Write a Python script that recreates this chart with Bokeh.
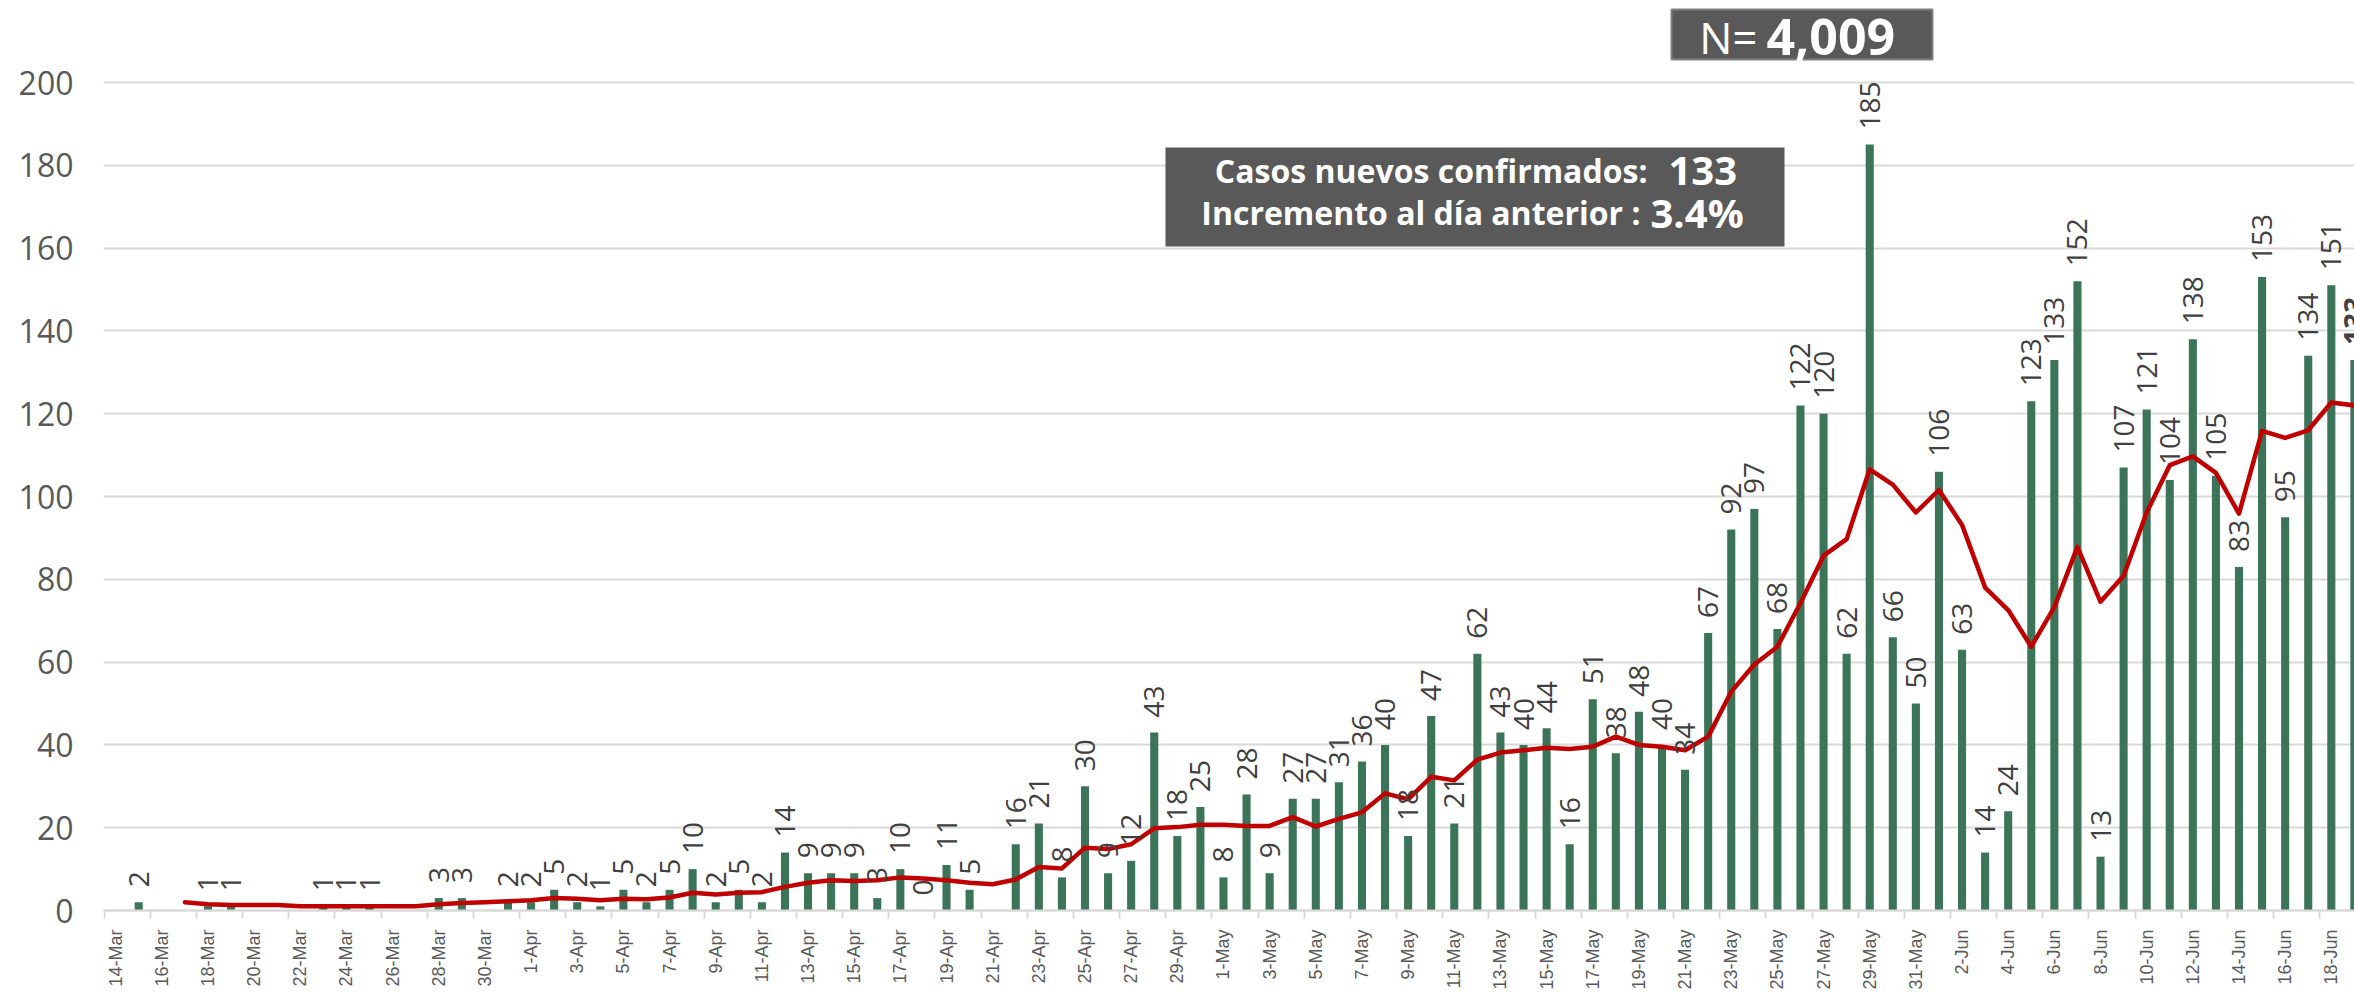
from bokeh.plotting import figure
from bokeh.models import ColumnDataSource, Range1d, LinearAxis, FixedTicker
from bokeh.core.properties import value
from bokeh.embed import file_html
from bokeh.resources import INLINE
from math import pi

# ---------------- data ----------------
dates = [
    "14-Mar", "15-Mar", "16-Mar", "17-Mar", "18-Mar", "19-Mar", "20-Mar", "21-Mar", "22-Mar",
    "23-Mar", "24-Mar", "25-Mar", "26-Mar", "27-Mar", "28-Mar", "29-Mar", "30-Mar", "31-Mar",
    "1-Apr", "2-Apr", "3-Apr", "4-Apr", "5-Apr", "6-Apr", "7-Apr", "8-Apr", "9-Apr", "10-Apr",
    "11-Apr", "12-Apr", "13-Apr", "14-Apr", "15-Apr", "16-Apr", "17-Apr", "18-Apr", "19-Apr",
    "20-Apr", "21-Apr", "22-Apr", "23-Apr", "24-Apr", "25-Apr", "26-Apr", "27-Apr", "28-Apr",
    "29-Apr", "30-Apr",
    "1-May", "2-May", "3-May", "4-May", "5-May", "6-May", "7-May", "8-May", "9-May", "10-May",
    "11-May", "12-May", "13-May", "14-May", "15-May", "16-May", "17-May", "18-May", "19-May",
    "20-May", "21-May", "22-May", "23-May", "24-May", "25-May", "26-May", "27-May", "28-May",
    "29-May", "30-May", "31-May",
    "1-Jun", "2-Jun", "3-Jun", "4-Jun", "5-Jun", "6-Jun", "7-Jun", "8-Jun", "9-Jun", "10-Jun",
    "11-Jun", "12-Jun", "13-Jun", "14-Jun", "15-Jun", "16-Jun", "17-Jun", "18-Jun", "19-Jun",
]

cases = [
    None, 2, None, None, 1, 1, None, None, None,
    1, 1, 1, None, None, 3, 3, None, 2,
    2, 5, 2, 1, 5, 2, 5, 10, 2, 5,
    2, 14, 9, 9, 9, 3, 10, 0, 11,
    5, None, 16, 21, 8, 30, 9, 12, 43,
    18, 25,
    8, 28, 9, 27, 27, 31, 36, 40, 18, 47,
    21, 62, 43, 40, 44, 16, 51, 38, 48,
    40, 34, 67, 92, 97, 68, 122, 120, 62,
    185, 66, 50,
    106, 63, 14, 24, 123, 133, 152, 13, 107, 121,
    104, 138, 105, 83, 153, 95, 134, 151, 133,
]

# red trend line (7-day moving average as drawn in the reference)
trend = [
    None, None, None, 2.0, 1.5, 1.33, 1.33, 1.33, 1.0,
    1.0, 1.0, 1.0, 1.0, 1.0, 1.5, 1.8, 2.0, 2.25,
    2.5, 3.0, 2.83, 2.5, 2.83, 2.71, 3.14, 4.29, 3.86, 4.29,
    4.43, 5.71, 6.71, 7.29, 7.14, 7.29, 8.0, 7.71, 7.29,
    6.71, 6.33, 7.5, 10.5, 10.17, 15.17, 14.83, 16.0, 19.86,
    20.14, 20.71,
    20.71, 20.43, 20.43, 22.57, 20.29, 22.14, 23.71, 28.29, 26.86, 32.29,
    31.43, 36.43, 38.14, 38.71, 39.29, 39.0, 39.57, 42.0, 40.0,
    39.57, 38.71, 42.0, 52.86, 59.43, 63.71, 74.29, 85.71, 89.71,
    106.57, 102.86, 96.14,
    101.57, 93.14, 78.0, 72.57, 63.71, 73.29, 87.86, 74.57, 80.86, 96.14,
    107.57, 109.71, 105.71, 95.86, 115.86, 114.14, 116.0, 122.71, 122.0,
]

y_ticks = [0, 20, 40, 60, 80, 100, 120, 140, 160, 180, 200]
total_n = "4,009"
new_cases = "133"
increment = "3.4%"

# ---------------- layout constants ----------------
W, H = 2354, 992
LEFT = 103
ZERO_Y = 910        # pixel row of y = 0
PX_DAY = 23.08      # pixels per day
PX_UNIT = 4.14      # pixels per case

x_start = -0.5 + (LEFT - 103.6) / PX_DAY
x_end = x_start + (W - LEFT) / PX_DAY
y_end = ZERO_Y / PX_UNIT
y_start = -(H - ZERO_Y) / PX_UNIT


def dx(px):  # reference pixel x -> data x
    return -0.5 + (px - 103.6) / PX_DAY


def dy(py):  # reference pixel y -> data y
    return (ZERO_Y - py) / PX_UNIT


p = figure(width=W, height=H, output_backend="svg", toolbar_location=None,
           x_range=Range1d(x_start, x_end), y_range=Range1d(y_start, y_end),
           x_axis_location=None, y_axis_location="left",
           min_border_left=LEFT, min_border_right=0, min_border_top=0,
           min_border_bottom=0)
p.outline_line_color = None
p.background_fill_color = "white"
p.border_fill_color = "white"
p.xgrid.visible = False

# y axis / grid
yt = FixedTicker(ticks=y_ticks)
yax = p.yaxis[0]
yax.ticker = yt
yax.axis_line_color = None
yax.major_tick_line_color = None
yax.minor_tick_line_color = None
yax.major_tick_out = 0
yax.major_tick_in = 0
yax.major_label_standoff = 30
yax.major_label_text_font = "Open Sans"
yax.major_label_text_font_size = "32px"
yax.major_label_text_color = "#595959"
p.ygrid[0].ticker = yt
p.ygrid[0].grid_line_color = "#d9d9d9"
p.ygrid[0].grid_line_width = 2

# x axis at y = 0: labels every second day, tick marks between day pairs
idx = list(range(len(dates)))
label_pos = idx[::2]
bounds = [i - 0.5 for i in label_pos] + [label_pos[-1] + 1.5]
xax = LinearAxis(fixed_location=0,
                 ticker=FixedTicker(ticks=label_pos, minor_ticks=bounds),
                 major_label_overrides={i: dates[i] for i in label_pos})
xax.axis_line_color = "#d9d9d9"
xax.axis_line_width = 2
xax.major_tick_line_color = None
xax.major_tick_out = 0
xax.major_tick_in = 0
xax.minor_tick_line_color = "#d9d9d9"
xax.minor_tick_line_width = 2
xax.minor_tick_out = 8
xax.minor_tick_in = 0
xax.major_label_orientation = pi / 2
xax.major_label_standoff = 11
xax.major_label_text_font = "Liberation Sans"
xax.major_label_text_font_size = "18px"
xax.major_label_text_color = "#595959"
p.add_layout(xax, "below")

# bars
bx = [i for i, v in zip(idx, cases) if v is not None]
bv = [v for v in cases if v is not None]
bar_src = ColumnDataSource(dict(x=bx, top=bv))
p.vbar(x="x", top="top", width=0.35, source=bar_src,
       fill_color="#3C7459", line_color=None)

# trend line
lx = [i for i, v in zip(idx, trend) if v is not None]
lv = [v for v in trend if v is not None]
p.line(lx, lv, line_color="#C00000", line_width=4.5, line_join="round", line_cap="round")

# bar value labels (last one bold)
reg_src = ColumnDataSource(dict(x=bx[:-1], y=bv[:-1], t=[str(v) for v in bv[:-1]]))
p.text(x="x", y="y", text="t", source=reg_src, angle=pi / 2, y_offset=-15,
       text_align="left", text_baseline="middle",
       text_font=value("Open Sans"), text_font_size="28px", text_color="#404040")
last_src = ColumnDataSource(dict(x=bx[-1:], y=bv[-1:], t=[str(v) for v in bv[-1:]]))
p.text(x="x", y="y", text="t", source=last_src, angle=pi / 2, y_offset=-15,
       text_align="left", text_baseline="middle", text_font_style="bold",
       text_font=value("Open Sans"), text_font_size="28px", text_color="#404040")

# N box
p.quad(left=[dx(1671)], right=[dx(1932)], top=[dy(9)], bottom=[dy(59)],
       fill_color="#595959", line_color="#808080", line_width=2)
p.text(x=[dx(1757)], y=[dy(36)], text=["N="], text_align="right",
       text_baseline="middle", text_font=value("Open Sans"),
       text_font_size="44px", text_color="white")
p.text(x=[dx(1766)], y=[dy(36)], text=[total_n], text_align="left",
       text_baseline="middle", text_font=value("Open Sans"),
       text_font_style="bold", text_font_size="50px", text_color="white")

# info box
p.quad(left=[dx(1165)], right=[dx(1784)], top=[dy(147)], bottom=[dy(246)],
       fill_color="#595959", line_color=None)
p.text(x=[dx(1647)], y=[dy(170)], text=["Casos nuevos confirmados:"],
       text_align="right", text_baseline="middle",
       text_font=value("Open Sans"), text_font_style="bold",
       text_font_size="32px", text_color="white")
p.text(x=[dx(1668)], y=[dy(170)], text=[new_cases], text_align="left",
       text_baseline="middle", text_font=value("Open Sans"),
       text_font_style="bold", text_font_size="40px", text_color="white")
p.text(x=[dx(1640)], y=[dy(212)], text=["Incremento al día anterior :"],
       text_align="right", text_baseline="middle",
       text_font=value("Open Sans"), text_font_style="bold",
       text_font_size="32px", text_color="white")
p.text(x=[dx(1650)], y=[dy(212)], text=[increment], text_align="left",
       text_baseline="middle", text_font=value("Open Sans"),
       text_font_style="bold", text_font_size="40px", text_color="white")

open("out.html", "w").write(file_html(p, INLINE))
